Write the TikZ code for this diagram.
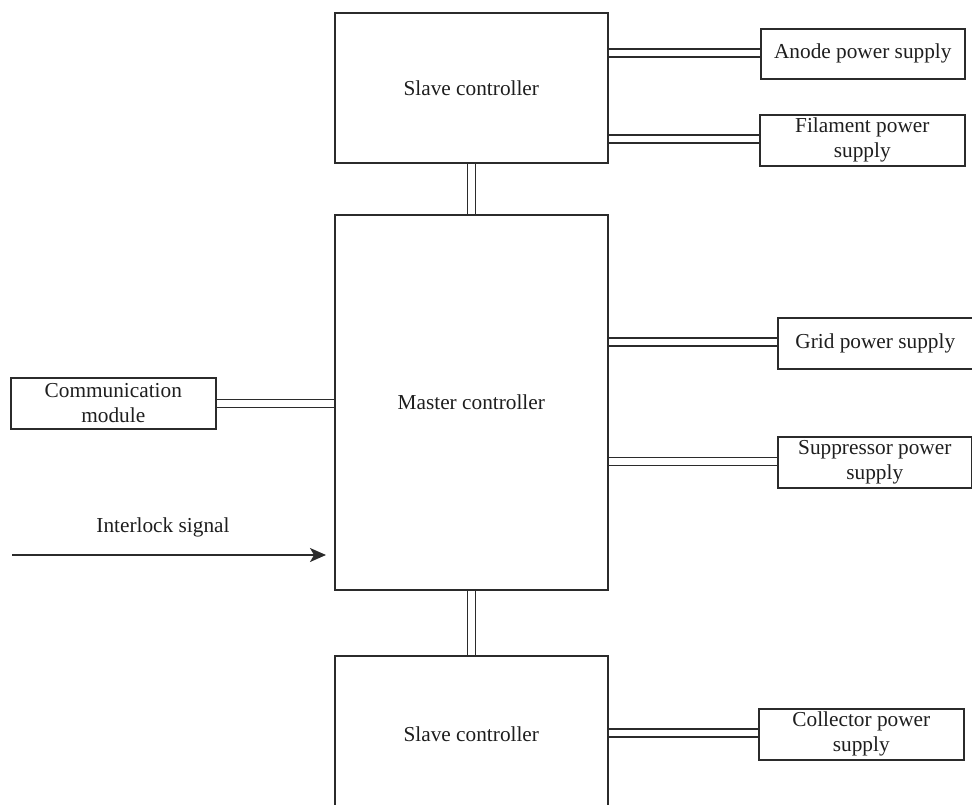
\documentclass[tikz,border=0pt]{standalone}
\usepackage{fontspec}
\setmainfont{Liberation Serif}
\usetikzlibrary{arrows.meta,backgrounds}
\definecolor{linec}{HTML}{2B2B2B}
\definecolor{textc}{HTML}{1E1E1E}
\begin{document}
\begin{tikzpicture}[x=1pt,y=-1pt,
  box/.style={draw=linec,line width=1.6pt,rectangle,anchor=north west,inner sep=0pt,
    align=center,text=textc,font=\fontsize{21.3}{25}\selectfont},
  dbl/.style={draw=linec,line width=1.6pt,double=white,double distance=6.4pt},
  arr/.style={draw=linec,line width=1.5pt,-{Stealth[length=16pt,width=14pt,inset=4pt]}},
  lbl/.style={text=textc,font=\fontsize{21.3}{25}\selectfont,inner sep=0pt}]
\path[use as bounding box] (0,0) rectangle (972,805);
\clip (0,0) rectangle (972,805);
% controllers
\node[box,minimum width=273pt,minimum height=150pt] (slave1) at (334,12) {Slave controller};
\node[box,minimum width=273pt,minimum height=375pt] (master) at (334,214) {Master controller};
\node[box,minimum width=273pt,minimum height=156pt] (slave2) at (334,655) {Slave controller};
% peripheral boxes
\node[box,minimum width=204pt,minimum height=50pt] (anode) at (760,28) {Anode power supply};
\node[box,minimum width=205pt,minimum height=51pt] (fil) at (759,114) {Filament power\\supply};
\node[box,minimum width=195pt,minimum height=51pt] (grid) at (777,317) {Grid power supply};
\node[box,minimum width=194pt,minimum height=51pt] (supp) at (777,436) {Suppressor power\\supply};
\node[box,minimum width=205pt,minimum height=51pt] (coll) at (758,708) {Collector power\\supply};
\node[box,minimum width=205pt,minimum height=51pt] (comm) at (10,377) {Communication\\module};
% interlock
\coordinate (ilstart) at (12,555);
\node[lbl] (illabel) at (163,527) {Interlock signal};
\draw[arr] (ilstart) -- ([xshift=-8pt]ilstart -| master.west);
% connectors
\begin{scope}[on background layer]
\draw[dbl] (slave1.south) -- (master.north);
\draw[dbl] (master.south) -- (slave2.north);
\draw[dbl] ([yshift=1pt]anode.west -| slave1.east) -- ([yshift=1pt]anode.west);
\draw[dbl] ([yshift=1.5pt]fil.west -| slave1.east) -- ([yshift=1.5pt]fil.west);
\draw[dbl] ([yshift=1.5pt]grid.west -| master.east) -- ([yshift=1.5pt]grid.west);
\draw[dbl] ([yshift=1pt]supp.west -| master.east) -- ([yshift=1pt]supp.west);
\draw[dbl] ([yshift=1.5pt]coll.west -| slave2.east) -- ([yshift=1.5pt]coll.west);
\draw[dbl] (comm.east) -- (comm.east -| master.west);
\end{scope}
\end{tikzpicture}
\end{document}
